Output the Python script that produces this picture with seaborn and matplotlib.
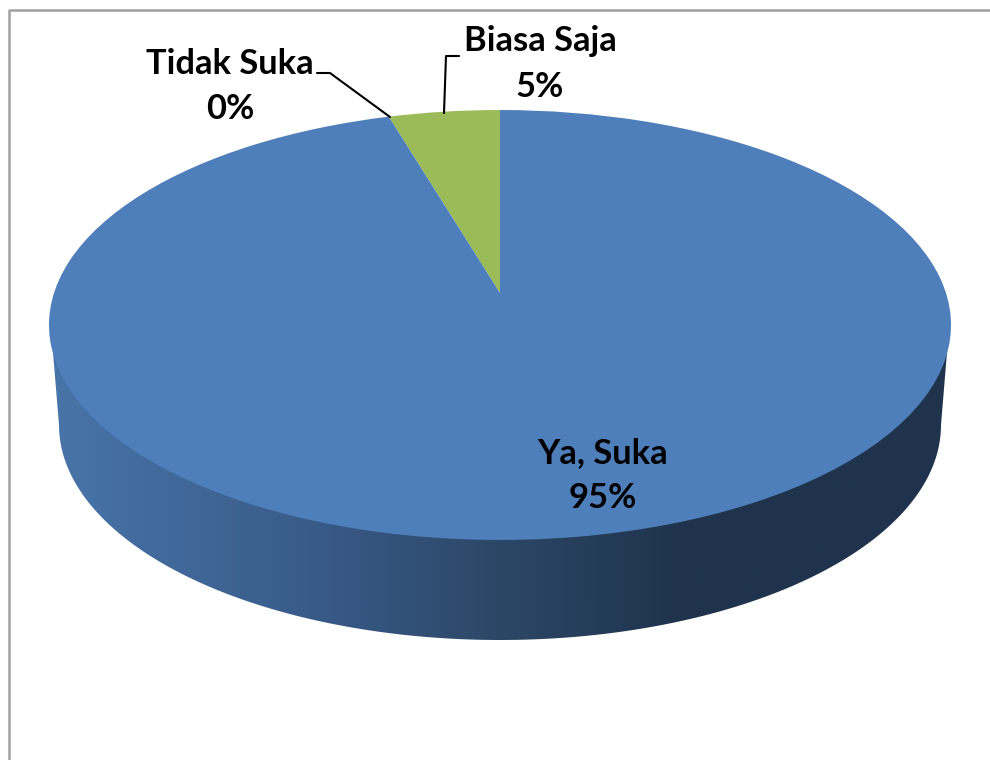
import numpy as np
import seaborn as sns
import matplotlib
matplotlib.use('Agg')
import matplotlib.pyplot as plt
from matplotlib.patches import Polygon
from matplotlib.transforms import Transform

categories = ['Biasa Saja', 'Tidak Suka', 'Ya, Suka']
values = [4.6, 0.0, 95.4]
percent_labels = ['5%', '0%', '95%']
colors = ['#9bbb59', '#c0504d', '#4f7fba']

sns.set_theme(style='white')
plt.rcParams['font.family'] = ['Lato', 'DejaVu Sans']


class Tilted(Transform):
    # unit circle of the pie -> tilted disc in pixel coords, with perspective
    input_dims = 2
    output_dims = 2

    def transform_non_affine(self, xy):
        xy = np.asarray(xy, dtype=float)
        w = 1 + 0.1488 * xy[:, 1]
        return np.column_stack([500 + 446 * xy[:, 0] / w, 293 - 210.2 * xy[:, 1] / w])


fig = plt.figure(figsize=(9.9, 7.6), dpi=100)
ax = fig.add_axes([0, 0, 1, 1])

wedges, _ = ax.pie(values, colors=colors, startangle=90, counterclock=True,
                   wedgeprops={'linewidth': 0})
ax.set_aspect('auto')
ax.axis('off')

tilt = Tilted()
for w in wedges:
    w.set_transform(tilt + ax.transData)
    w.set_clip_on(False)
    w.set_zorder(3)

# side wall of the disc, gradient clipped to its outline
t = np.linspace(0, np.pi, 200)
wall = np.column_stack([500 - 441 * np.cos(t), 425 + 215 * np.sin(t)])
wall = np.vstack([[51, 328], wall, [949, 328]])
clip = Polygon(wall, closed=True, transform=ax.transData, facecolor='none', edgecolor='none')
ax.add_patch(clip)
cmap = matplotlib.colors.LinearSegmentedColormap.from_list(
    'wall', [(0, '#4875a9'), (0.3, '#385a88'), (0.5, '#2c4766'), (0.7, '#1f334d'), (1, '#1f334d')])
im = ax.imshow(np.linspace(0, 1, 512).reshape(1, -1), cmap=cmap, aspect='auto',
               extent=(50, 950, 660, 300), zorder=1)
im.set_clip_path(clip)
ax.set_xlim(0, 990)
ax.set_ylim(760, 0)

# chart area border (runs off the right and bottom of the image)
ax.plot([9, 9, 990], [760, 10, 10], color='#a0a0a0', lw=1.8, zorder=2, clip_on=False)

# leader lines
ax.plot([317, 330, 390], [73, 73, 117], color='black', lw=1.5, zorder=4)
ax.plot([459, 446, 444], [56, 56, 113], color='black', lw=1.5, zorder=4)

label_font = dict(fontsize=24.8, fontweight='bold', color='black', ha='center', va='center', zorder=5)
ax.text(540, 41, categories[0], **label_font)
ax.text(540, 87, percent_labels[0], **label_font)
ax.text(230, 64, categories[1], **label_font)
ax.text(230, 109, percent_labels[1], **label_font)
ax.text(603, 453, categories[2], **label_font)
ax.text(603, 498, percent_labels[2], **label_font)

fig.savefig('out.png', dpi=100)
